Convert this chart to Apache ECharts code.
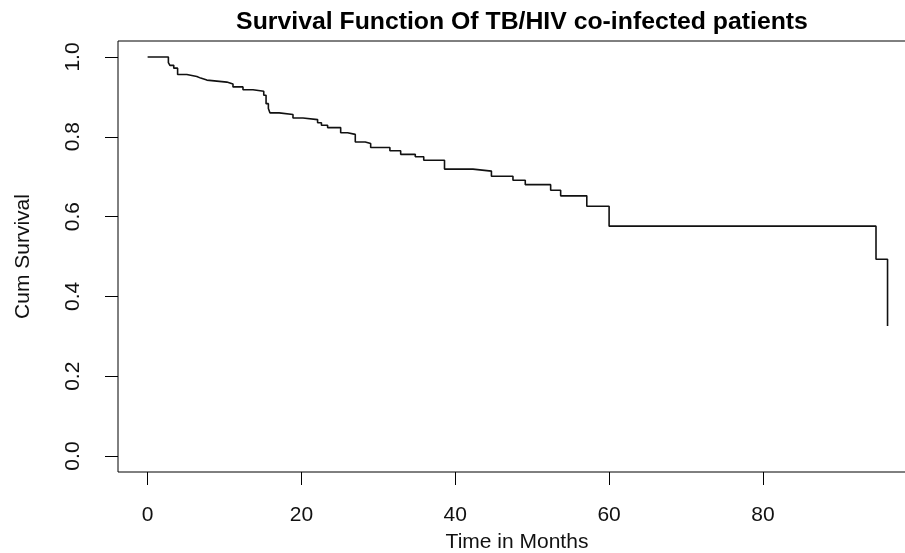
<!DOCTYPE html>
<html>
<head>
<meta charset="utf-8">
<script src="https://cdn.jsdelivr.net/npm/echarts@6/dist/echarts.min.js"></script>
<style>html,body{margin:0;padding:0;background:#fff}#c{width:905px;height:553px}</style>
</head>
<body>
<div id="c"></div>
<script>
const times = [0, 2.7, 2.9, 3.4, 3.9, 5.1, 6.4, 6.9, 7.7, 10.3, 11.1, 12.4, 13.7, 15.1, 15.4, 15.7, 15.9, 17.1, 18.9, 20.2, 22.1, 22.6, 23.4, 25.1, 26.0, 27.0, 28.3, 29.0, 31.5, 32.9, 34.8, 35.9, 38.6, 42.3, 44.7, 47.5, 49.1, 52.4, 53.7, 57.1, 60.0, 94.7, 96.2];
const survival = [1.0, 0.986, 0.979, 0.972, 0.956, 0.951, 0.947, 0.942, 0.937, 0.932, 0.925, 0.918, 0.914, 0.904, 0.883, 0.871, 0.860, 0.856, 0.847, 0.843, 0.835, 0.829, 0.823, 0.810, 0.806, 0.787, 0.783, 0.773, 0.765, 0.756, 0.750, 0.741, 0.719, 0.714, 0.701, 0.691, 0.680, 0.666, 0.652, 0.626, 0.576, 0.493, 0.326];
const xTicks = [0, 20, 40, 60, 80];
const yTicks = [0, 0.2, 0.4, 0.6, 0.8, 1.0];

const FONT = '"Liberation Sans", Arial, Helvetica, sans-serif';
const chart = echarts.init(document.getElementById('c'), null, {renderer: 'canvas'});
chart.setOption({
  animation: false,
  backgroundColor: '#ffffff',
  title: {
    text: 'Survival Function Of TB/HIV co-infected patients',
    left: 517, top: 5, textAlign: 'center',
    textStyle: {fontFamily: FONT, fontWeight: 'bold', fontSize: 24.8, color: '#000'}
  },
  grid: {left: 118, top: 41, width: 798, height: 431, show: true, borderColor: '#000', borderWidth: 1,
    backgroundColor: 'transparent', containLabel: false, outerBoundsMode: 'none'},
  xAxis: {
    type: 'value', min: -3.85, max: 99.9,
    name: 'Time in Months', nameLocation: 'middle', nameGap: 60,
    nameTextStyle: {fontFamily: FONT, fontSize: 21, color: '#111'},
    axisLine: {show: false, onZero: false},
    splitLine: {show: false},
    axisTick: {show: true, inside: false, length: 13, lineStyle: {color: '#000', width: 1}, customValues: xTicks},
    axisLabel: {customValues: xTicks, fontFamily: FONT, fontSize: 21, color: '#111', margin: 33}
  },
  yAxis: {
    type: 'value', min: -0.04, max: 1.04,
    name: 'Cum Survival', nameLocation: 'middle', nameGap: 84, nameRotate: 90,
    nameTextStyle: {fontFamily: FONT, fontSize: 21, color: '#111'},
    axisLine: {show: false, onZero: false},
    splitLine: {show: false},
    axisTick: {show: true, inside: false, length: 13, lineStyle: {color: '#000', width: 1}, customValues: yTicks},
    axisLabel: {customValues: yTicks, rotate: 90, fontFamily: FONT, fontSize: 21, color: '#111', margin: 34,
      formatter: v => v.toFixed(1)}
  },
  series: [{
    type: 'line', step: 'end', showSymbol: false, symbol: 'none',
    data: times.map((t, i) => [t, survival[i]]),
    lineStyle: {color: '#111', width: 1.6}
  }]
});
</script>
</body>
</html>
